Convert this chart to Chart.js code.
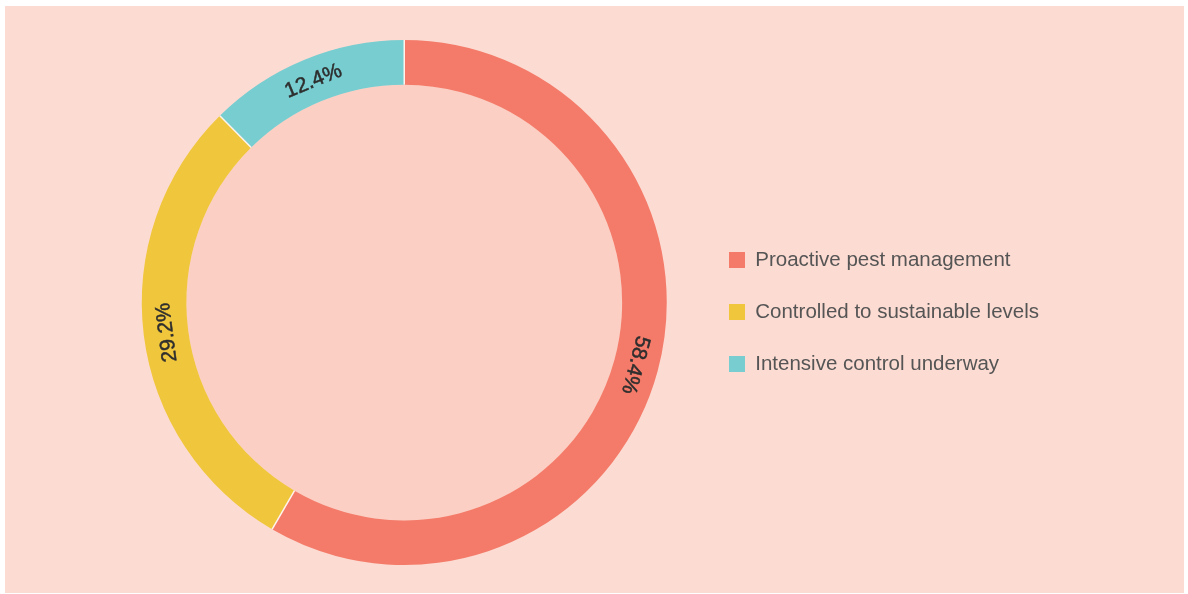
<!DOCTYPE html>
<html>
<head>
<meta charset="utf-8">
<script src="https://cdn.jsdelivr.net/npm/chart.js@4/dist/chart.umd.min.js"></script>
<style>
  html, body { margin: 0; padding: 0; background: #ffffff; }
  #box { position: absolute; left: 5px; top: 6px; width: 1179px; height: 587px; background: #fcdbd2; }
</style>
</head>
<body>
<div id="box"><canvas id="pestChart"></canvas></div>
<script>
const categories = ["Proactive pest management", "Controlled to sustainable levels", "Intensive control underway"];
const shares = [58.4, 29.2, 12.4];
const sliceColors = ["#f47b69", "#f0c63c", "#77cdd0"];

// fill the hole of the ring, a little darker than the page
const holeFill = {
    id: "holeFill",
    beforeDatasetsDraw(chart) {
        const arc = chart.getDatasetMeta(0).data[0];
        if (!arc) return;
        const { x, y, innerRadius } = arc.getProps(["x", "y", "innerRadius"], true);
        const ctx = chart.ctx;
        ctx.save();
        ctx.beginPath();
        ctx.arc(x, y, innerRadius, 0, Math.PI * 2);
        ctx.fillStyle = "#fbcfc3";
        ctx.fill();
        ctx.restore();
    }
};

// white separators and percentage labels along the ring
const ringLabels = {
    id: "ringLabels",
    afterDatasetsDraw(chart) {
        const ctx = chart.ctx;
        const meta = chart.getDatasetMeta(0);
        ctx.save();
        meta.data.forEach((arc, i) => {
            const p = arc.getProps(["x", "y", "startAngle", "endAngle", "innerRadius", "outerRadius"], true);
            // separator line
            ctx.strokeStyle = "#fff3ee";
            ctx.lineWidth = 1.5;
            ctx.beginPath();
            ctx.moveTo(p.x + Math.cos(p.startAngle) * p.innerRadius, p.y + Math.sin(p.startAngle) * p.innerRadius);
            ctx.lineTo(p.x + Math.cos(p.startAngle) * p.outerRadius, p.y + Math.sin(p.startAngle) * p.outerRadius);
            ctx.stroke();

            const mid = (p.startAngle + p.endAngle) / 2;
            const r = (p.innerRadius + p.outerRadius) / 2;
            const text = shares[i].toFixed(1) + "%";
            ctx.save();
            ctx.translate(p.x + Math.cos(mid) * r, p.y + Math.sin(mid) * r);
            ctx.rotate(mid + Math.PI / 2);
            ctx.fillStyle = "#2e2e2e";
            ctx.strokeStyle = "#2e2e2e";
            ctx.lineWidth = 0.5;
            ctx.font = "21px 'Liberation Sans', Arial, sans-serif";
            ctx.textAlign = "center";
            ctx.textBaseline = "middle";
            ctx.fillText(text, 0, 1);
            ctx.strokeText(text, 0, 1);
            ctx.restore();
        });
        ctx.restore();
    }
};

new Chart(document.getElementById("pestChart"), {
    type: "doughnut",
    data: {
        labels: categories,
        datasets: [{
            data: shares,
            backgroundColor: sliceColors,
            borderWidth: 0,
            hoverOffset: 0
        }]
    },
    options: {
        responsive: true,
        maintainAspectRatio: false,
        animation: false,
        cutout: "83%",
        layout: { padding: { left: 106, right: 135, top: 34, bottom: 28 } },
        plugins: {
            tooltip: { enabled: false },
            legend: {
                position: "right",
                title: { display: true, text: "", padding: 0, font: { size: 12, lineHeight: "19px" } },
                labels: {
                    boxWidth: 16,
                    boxHeight: 16,
                    padding: 31.5,
                    color: "#555555",
                    font: { size: 20.5, family: "'Liberation Sans', Arial, sans-serif" }
                }
            }
        }
    },
    plugins: [holeFill, ringLabels]
});
</script>
</body>
</html>
